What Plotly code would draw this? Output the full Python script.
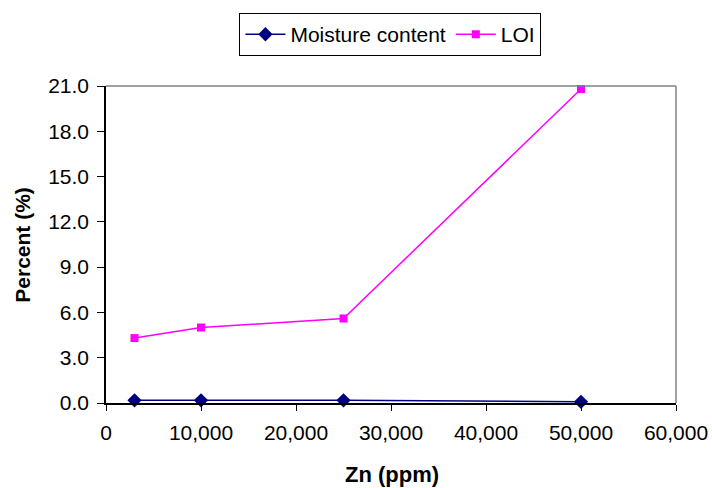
import plotly.graph_objects as go

zn_ppm = [3000, 10000, 25000, 50000]
moisture = [0.18, 0.18, 0.18, 0.08]
loi = [4.3, 5.0, 5.6, 20.8]

font_family = "Arial, Liberation Sans, sans-serif"

fig = go.Figure()
fig.add_trace(go.Scatter(
    x=zn_ppm, y=moisture, name="Moisture content", mode="lines+markers",
    line=dict(color="#000080", width=1.5),
    marker=dict(symbol="diamond", size=11, color="#000080"),
    cliponaxis=False,
))
fig.add_trace(go.Scatter(
    x=zn_ppm, y=loi, name="LOI", mode="lines+markers",
    line=dict(color="#FF00FF", width=1.5),
    marker=dict(symbol="square", size=8, color="#FF00FF"),
    cliponaxis=False,
))

# gray top/right frame of plot area
fig.add_shape(type="line", xref="paper", yref="paper", x0=0, x1=1, y0=1, y1=1,
              line=dict(color="#808080", width=1.5))
fig.add_shape(type="line", xref="paper", yref="paper", x0=1, x1=1, y0=0, y1=1,
              line=dict(color="#808080", width=1.5))

# axis titles
fig.add_annotation(text="<b>Zn (ppm)</b>", xref="paper", yref="paper",
                   x=0.502, y=-0.227, xanchor="center", yanchor="middle",
                   showarrow=False, font=dict(size=22))
fig.add_annotation(text="<b>Percent (%)</b>", xref="paper", yref="paper",
                   x=-0.147, y=0.5, xanchor="center", yanchor="middle",
                   textangle=-90, showarrow=False, font=dict(size=21))

fig.update_layout(
    width=712, height=488,
    margin=dict(l=106, r=36, t=86, b=85, autoexpand=False),
    paper_bgcolor="white", plot_bgcolor="white",
    font=dict(family=font_family, size=21, color="black"),
    showlegend=True,
    legend=dict(
        orientation="h", x=0.499, xanchor="center", y=1.23, yanchor="top",
        bordercolor="black", borderwidth=1, bgcolor="white",
        font=dict(size=21), itemwidth=40,
    ),
    xaxis=dict(
        range=[0, 60000], tickmode="linear", tick0=0, dtick=10000,
        tickformat=",", showgrid=False, zeroline=False, automargin=False,
        showline=True, linecolor="black", linewidth=1.5,
        ticks="outside", ticklen=6, tickcolor="black", ticklabelstandoff=4,
    ),
    yaxis=dict(
        range=[0, 21], tickmode="linear", tick0=0, dtick=3,
        tickformat=".1f", showgrid=False, zeroline=False, automargin=False,
        showline=True, linecolor="black", linewidth=1.5,
        ticks="outside", ticklen=7, tickcolor="black", ticklabelstandoff=4,
    ),
)

fig.write_html("out.html")
